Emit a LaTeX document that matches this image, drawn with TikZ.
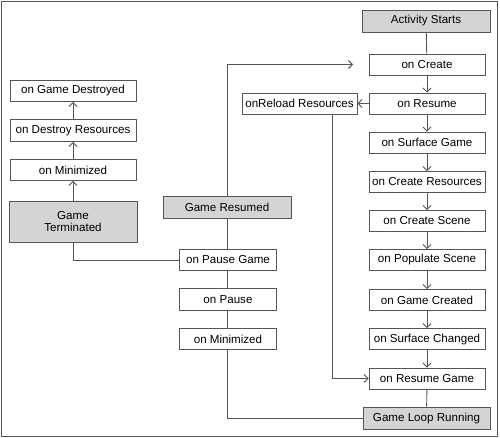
\documentclass[tikz,border=0pt]{standalone}
\usepackage{fontspec}
\setmainfont{Liberation Sans}
\usetikzlibrary{arrows.meta}
\definecolor{linegray}{HTML}{555555}
\definecolor{boxfill}{HTML}{D4D4D4}
\begin{document}
\begin{tikzpicture}[x=1pt,y=-1pt,
  box/.style={draw=linegray, line width=0.9pt, fill=white, minimum height=21pt, inner sep=0pt, font=\fontsize{11.6}{13}\selectfont},
  rbox/.style={box, minimum width=116pt},
  lbox/.style={box, minimum width=126pt},
  mbox/.style={box, minimum width=97pt},
  gbox/.style={box, fill=boxfill, minimum width=128pt, minimum height=22pt},
  conn/.style={draw=linegray, line width=0.9pt},
  arr/.style={conn, -{Straight Barb[length=4pt,width=8pt,line width=0.9pt]}}]
\useasboundingbox (0,0) rectangle (500,438);
\draw[draw=linegray, line width=1pt] (1.5,1.5) rectangle (497.5,436.5);
% right column
\node[gbox] (as) at (426,21) {Activity Starts};
\node[rbox] (oc) at (427,64.5) {on Create};
\node[rbox] (ors) at (427,103.5) {on Resume};
\node[rbox] (osg) at (427,142.5) {on Surface Game};
\node[rbox] (ocr) at (427,182) {on Create Resources};
\node[rbox] (ocs) at (427,221) {on Create Scene};
\node[rbox] (ops) at (427,260) {on Populate Scene};
\node[rbox] (ogc) at (427,300) {on Game Created};
\node[rbox] (osc) at (427,339) {on Surface Changed};
\node[rbox] (org) at (427,378.5) {on Resume Game};
\node[gbox, minimum width=127pt] (glr) at (426.5,418) {Game Loop Running};
\node[rbox, minimum width=115pt] (rel) at (299.5,103.5) {onReload Resources};
% left column
\node[lbox] (ogd) at (73,91) {on Game Destroyed};
\node[lbox, minimum height=22pt] (odr) at (73,130.5) {on Destroy Resources};
\node[lbox] (omz) at (73,170) {on Minimized};
\node[gbox, minimum height=41pt, align=center] (gt) at (73,221.5) {Game\\[-1pt]Terminated};
% middle column
\node[gbox] (gr) at (227,207.5) {Game Resumed};
\node[mbox] (opg) at (228,260) {on Pause Game};
\node[mbox, minimum height=22pt] (op) at (228,299.5) {on Pause};
\node[mbox] (omm) at (228,339) {on Minimized};
\coordinate (topend) at (353,64.5);
% connectors right column
\draw[conn] (as) -- (oc);
\draw[arr] (oc) -- (ors);
\draw[arr] (ors) -- (osg);
\draw[arr] (osg) -- (ocr);
\draw[arr] (ocr) -- (ocs);
\draw[arr] (ocs) -- (ops);
\draw[arr] (ops) -- (ogc);
\draw[arr] (ogc) -- (osc);
\draw[arr] (osc) -- (org);
\draw[conn] (org) -- (glr);
\draw[arr] (ors) -- (rel);
\draw[arr] ([xshift=32.5pt]rel.south) |- (org.west);
% left column
\draw[arr] (gt) -- (omz);
\draw[arr] (omz) -- (odr);
\draw[arr] (odr) -- (ogd);
\draw[conn] (gt.south) |- (opg.west);
% middle
\draw[arr] (gr.north) |- (topend);
\draw[conn] (gr.south) -- (gr.south |- opg.north);
\draw[conn] (gr.south |- opg.south) -- (gr.south |- op.north);
\draw[conn] (gr.south |- op.south) -- (gr.south |- omm.north);
\draw[conn] (gr.south |- omm.south) |- (glr.west);
\end{tikzpicture}
\end{document}
